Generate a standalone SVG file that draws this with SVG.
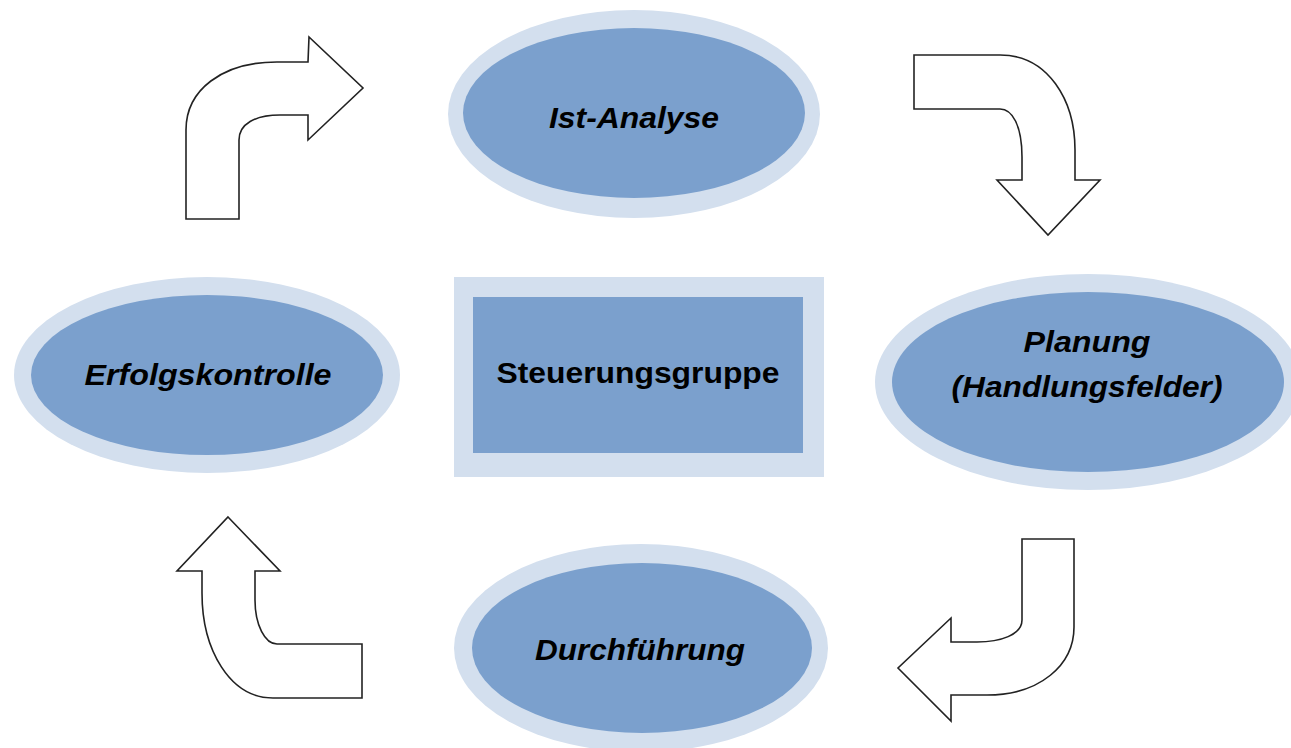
<svg xmlns="http://www.w3.org/2000/svg" width="1291" height="748" viewBox="0 0 1291 748">
<style>
.outer{fill:#D3DFEE}
.inner{fill:#7BA0CD}
.lbl{font-family:"Liberation Sans",Arial,sans-serif;font-weight:bold;font-style:italic;font-size:30px;fill:#000;text-anchor:middle}
.lbln{font-family:"Liberation Sans",Arial,sans-serif;font-weight:bold;font-size:30px;fill:#000;text-anchor:middle}
.arr{fill:#fff;stroke:#222;stroke-width:1.6;stroke-linejoin:miter}
</style>
<rect width="1291" height="748" fill="#fff"/>
<g id="connectors">
<path class="arr" d="M186,219 L186,130 C186,90 222,62 277,62 L308,62 L309,37 L363,88 L308,140 L308,115 L280,115 C255,115 239,124 239,140 L239,219 Z"/>
<path class="arr" d="M914,55 L1000,55 C1048,55 1075,100 1075,150 L1075,180 L1100,180 L1048,235 L997,180 L1022,180 L1022,157 C1022,125 1012,109 1000,109 L914,109 Z"/>
<path class="arr" d="M1074,539 L1022,539 L1022,620 C1022,635 1000,642 977,642 L951,642 L951,618 L898,668 L951,721 L951,695 L987,695 C1040,695 1074,665 1074,627 Z"/>
<path class="arr" d="M228,517 L280,571 L255,571 L255,600 C255,625 265,644 277,644 L362,644 L362,698 L273,698 C230,698 202,650 202,593 L202,571 L177,571 Z"/>
</g>
<g id="ist-analyse">
<ellipse class="outer" cx="634" cy="114" rx="186" ry="104"/>
<ellipse class="inner" cx="634" cy="113" rx="171" ry="85"/>
<text class="lbl" x="634" y="128" textLength="170" lengthAdjust="spacingAndGlyphs">Ist-Analyse</text>
</g>
<g id="erfolgskontrolle">
<ellipse class="outer" cx="207" cy="375" rx="193" ry="98"/>
<ellipse class="inner" cx="207" cy="375" rx="176" ry="80"/>
<text class="lbl" x="208" y="385" textLength="247" lengthAdjust="spacingAndGlyphs">Erfolgskontrolle</text>
</g>
<g id="steuerungsgruppe">
<rect class="outer" x="454" y="277" width="370" height="200"/>
<rect class="inner" x="473" y="297" width="330" height="156"/>
<text class="lbln" x="638" y="383" textLength="283" lengthAdjust="spacingAndGlyphs">Steuerungsgruppe</text>
</g>
<g id="planung">
<ellipse class="outer" cx="1088" cy="382" rx="213" ry="108"/>
<ellipse class="inner" cx="1088" cy="382" rx="196" ry="90"/>
<text class="lbl" x="1087" y="352" textLength="127" lengthAdjust="spacingAndGlyphs">Planung</text>
<text class="lbl" x="1087" y="397" textLength="271" lengthAdjust="spacingAndGlyphs">(Handlungsfelder)</text>
</g>
<g id="durchfuehrung">
<ellipse class="outer" cx="641" cy="648" rx="187" ry="104"/>
<ellipse class="inner" cx="642" cy="648" rx="170" ry="85"/>
<text class="lbl" x="640" y="660" textLength="210" lengthAdjust="spacingAndGlyphs">Durchführung</text>
</g>
</svg>
